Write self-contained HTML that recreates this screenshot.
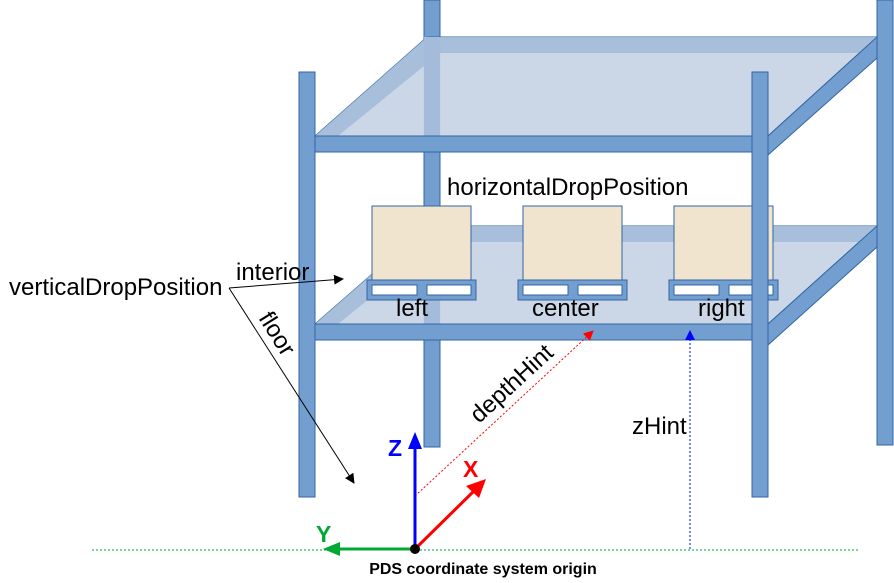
<!DOCTYPE html>
<html><head><meta charset="utf-8"><style>
html,body{margin:0;padding:0;background:#fff;}
svg{display:block;font-family:"Liberation Sans",sans-serif;}
</style></head><body>
<svg width="894" height="583" viewBox="0 0 894 583" xmlns="http://www.w3.org/2000/svg">
<defs>
<marker id="ab" markerWidth="10" markerHeight="10" refX="9" refY="5" orient="auto" markerUnits="userSpaceOnUse"><path d="M0,0 L10,5 L0,10 z" fill="#000"/></marker>
<marker id="ar" markerWidth="10" markerHeight="10" refX="9" refY="5" orient="auto" markerUnits="userSpaceOnUse"><path d="M0,0 L10,5 L0,10 z" fill="#f00"/></marker>
<marker id="abl" markerWidth="10" markerHeight="10" refX="9" refY="5" orient="auto" markerUnits="userSpaceOnUse"><path d="M0,0 L10,5 L0,10 z" fill="#00f"/></marker>
</defs>
<rect x="424" y="0" width="16" height="447" fill="#729fcf" stroke="#3465a4"/>
<rect x="877" y="0" width="16" height="445" fill="#729fcf" stroke="#3465a4"/>
<polygon points="427,37 877,37 768,136 315,136" fill="#c8d5e5" fill-opacity="0.95" stroke="#3465a4"/>
<polygon points="427,37 877,37 877,53 440,53" fill="#a4bcd9" opacity="0.9"/>
<polygon points="427,37 440,53 338,136 315,136" fill="#a4bcd9" opacity="0.9"/>
<rect x="424" y="37" width="16" height="99" fill="#a4bcd9"/>
<polygon points="877,37 877,58 768,155 768,136" fill="#729fcf" stroke="#3465a4"/>
<rect x="315" y="136" width="437" height="16" fill="#729fcf" stroke="#3465a4"/>
<polygon points="427,226 877,226 768,324 315,324" fill="#c8d5e5" fill-opacity="0.95" stroke="#3465a4"/>
<polygon points="427,226 877,226 877,242 440,242" fill="#a4bcd9" opacity="0.9"/>
<polygon points="427,226 440,242 338,324 315,324" fill="#a4bcd9" opacity="0.9"/>
<rect x="424" y="226" width="16" height="98" fill="#a4bcd9"/>
<polygon points="877,226 877,247 768,345 768,324" fill="#729fcf" stroke="#3465a4"/>
<g stroke="#3465a4">
<rect x="372" y="206" width="99" height="74" fill="#f0e4cf"/>
<rect x="367" y="280" width="109" height="20" fill="#729fcf"/>
<rect x="372" y="285" width="45" height="10" fill="#fff"/>
<rect x="427" y="285" width="44" height="10" fill="#fff"/>
<rect x="523" y="206" width="99" height="74" fill="#f0e4cf"/>
<rect x="518" y="280" width="109" height="20" fill="#729fcf"/>
<rect x="523" y="285" width="45" height="10" fill="#fff"/>
<rect x="578" y="285" width="44" height="10" fill="#fff"/>
<rect x="674" y="206" width="99" height="74" fill="#f0e4cf"/>
<rect x="669" y="280" width="109" height="20" fill="#729fcf"/>
<rect x="674" y="285" width="45" height="10" fill="#fff"/>
<rect x="729" y="285" width="44" height="10" fill="#fff"/>
</g>
<text x="396" y="316" font-size="24">left</text>
<text x="532" y="316" font-size="24">center</text>
<text x="698" y="316" font-size="24">right</text>
<rect x="315" y="324" width="437" height="16" fill="#729fcf" stroke="#3465a4"/>
<rect x="299" y="72" width="16" height="425" fill="#729fcf" stroke="#3465a4"/>
<rect x="752" y="72" width="16" height="425" fill="#729fcf" stroke="#3465a4"/>
<text x="447" y="195" font-size="24">horizontalDropPosition</text>
<text x="9" y="295" font-size="24">verticalDropPosition</text>
<text x="236" y="280" font-size="24">interior</text>
<line x1="229" y1="288" x2="343" y2="279" stroke="#000" marker-end="url(#ab)"/>
<line x1="229" y1="288" x2="354" y2="483" stroke="#000" marker-end="url(#ab)"/>
<text x="0" y="0" font-size="24" transform="translate(258,318) rotate(58)">floor</text>
<line x1="92" y1="550" x2="860" y2="550" stroke="#00a933" stroke-dasharray="2,2"/>
<line x1="415" y1="496" x2="593" y2="331" stroke="#f00" stroke-dasharray="2,2" marker-end="url(#ar)"/>
<text x="0" y="0" font-size="24" transform="translate(479,424) rotate(-42.5)">depthHint</text>
<line x1="690" y1="549" x2="690" y2="331" stroke="#00f" stroke-dasharray="2,2" marker-end="url(#abl)"/>
<text x="632" y="434" font-size="24">zHint</text>
<line x1="415" y1="549" x2="415" y2="448" stroke="#00f" stroke-width="3"/>
<polygon points="415,432 408,449 422,449" fill="#00f"/>
<text x="388" y="456" font-size="23" font-weight="bold" fill="#00f">Z</text>
<line x1="415" y1="549" x2="476" y2="489" stroke="#f00" stroke-width="3"/>
<polygon points="486,479 466,486 479,498" fill="#f00"/>
<text x="463" y="477" font-size="23" font-weight="bold" fill="#f00">X</text>
<line x1="415" y1="549" x2="340" y2="549" stroke="#00a933" stroke-width="3"/>
<polygon points="323,549 340,542 340,556" fill="#00a933"/>
<text x="316" y="542" font-size="23" font-weight="bold" fill="#00a933">Y</text>
<circle cx="415" cy="549" r="5" fill="#000"/>
<text x="483" y="574" font-size="16" font-weight="bold" text-anchor="middle">PDS coordinate system origin</text>
</svg>
</body></html>
